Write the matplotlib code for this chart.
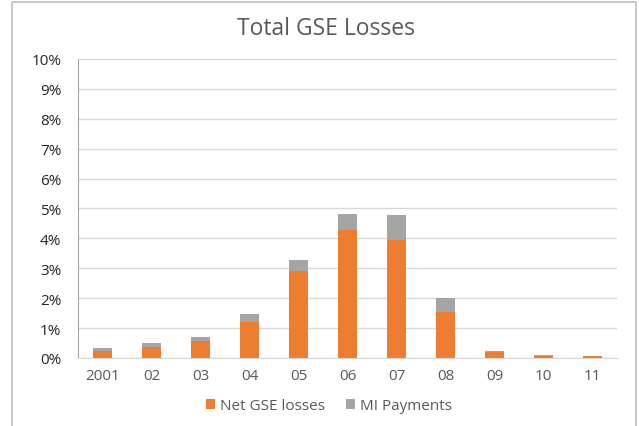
import matplotlib
matplotlib.use("Agg")
import matplotlib.pyplot as plt
import matplotlib.patches as patches
from matplotlib.ticker import FuncFormatter
import numpy as np

plt.rcParams['font.family'] = ['Open Sans', 'DejaVu Sans']

# values (% of originations)
years = ['2001', '02', '03', '04', '05', '06', '07', '08', '09', '10', '11']
net_gse_losses = [0.23, 0.37, 0.57, 1.19, 2.91, 4.27, 3.95, 1.53, 0.21, 0.08, 0.06]
mi_payments = [0.12, 0.14, 0.14, 0.27, 0.38, 0.53, 0.83, 0.47, 0.02, 0.01, 0.00]
yticks = list(range(0, 11))

orange = '#ED7D31'
grey = '#A5A5A5'
txt = '#595959'

fig = plt.figure(figsize=(6.39, 4.27), dpi=100)
ax = fig.add_axes([0.122, 0.1593, 0.8436, 0.7002])

# outer chart frame
fig.patches.append(patches.Rectangle((12 / 639, -0.05), (636 - 12) / 639, 1 - 3 / 427 + 0.05,
                                     transform=fig.transFigure, fill=False,
                                     edgecolor='#BFBFBF', linewidth=1.2))

x = np.arange(len(years))
ax.bar(x, net_gse_losses, width=0.4, color=orange, label='Net GSE losses', zorder=3)
ax.bar(x, mi_payments, width=0.4, bottom=net_gse_losses, color=grey,
       label='MI Payments', zorder=3)

ax.set_xlim(-0.5, len(years) - 0.5)
ax.set_ylim(0, 10)
ax.set_yticks(yticks)
ax.yaxis.set_major_formatter(FuncFormatter(lambda v, p: '%d%%' % v))
ax.set_xticks(x)
ax.set_xticklabels(years)
ax.tick_params(axis='both', length=0, labelsize=11, colors=txt)
ax.tick_params(axis='x', pad=7)
ax.tick_params(axis='y', pad=12)
for lbl in ax.get_yticklabels():
    lbl.set_color('#262626')

ax.grid(axis='y', color='#D9D9D9', linewidth=1, zorder=0)
for s in ['top', 'right']:
    ax.spines[s].set_visible(False)
ax.spines['left'].set_color('#A6A6A6')
ax.spines['bottom'].set_color('#D9D9D9')

fig.text(0.51, 0.932, 'Total GSE Losses', ha='center', va='center', fontsize=16.5, color=txt)

leg = ax.legend(loc='center', bbox_to_anchor=(0.466, -0.16), ncol=2, frameon=False,
                fontsize=11, handlelength=0.55, handleheight=0.55, handletextpad=0.35,
                columnspacing=1.4)
for t in leg.get_texts():
    t.set_color(txt)

fig.savefig('out.png', dpi=100)
